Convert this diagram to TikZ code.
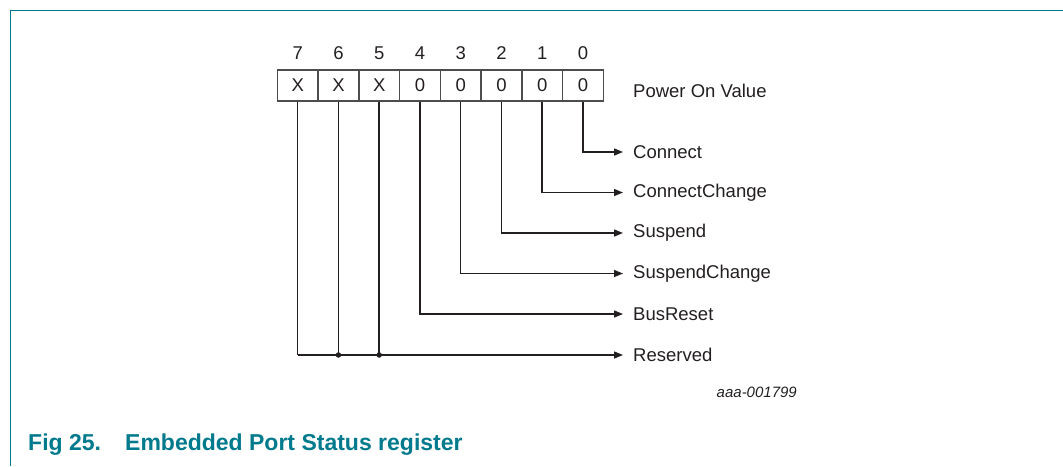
\documentclass[tikz,border=0pt]{standalone}
\usepackage{fontspec}
\setmainfont{Liberation Sans}
\usetikzlibrary{arrows.meta}
\definecolor{nxpteal}{RGB}{0,122,140}
\definecolor{ink}{RGB}{35,31,32}
\tikzset{
  cell/.style={draw=ink!80, line width=1.4pt, minimum width=40.75pt, minimum height=31pt, inner sep=0pt, font=\fontsize{18.5}{20}\selectfont, text=ink},
  bitnum/.style={inner sep=0pt, font=\fontsize{18.5}{20}\selectfont, text=ink},
  lbl/.style={anchor=west, inner sep=0pt, font=\fontsize{18.5}{20}\selectfont, text=ink},
  conn/.style={draw=ink, line width=1.4pt, -{Triangle[length=9pt,width=7pt]}},
  wire/.style={draw=ink, line width=1.4pt},
  dotj/.style={circle, fill=ink, inner sep=0pt, minimum size=5.5pt},
  frame/.style={draw=nxpteal, line width=1.6pt},
  caption/.style={anchor=west, inner sep=0pt, text=nxpteal, font=\fontsize{23}{25}\selectfont\bfseries}
}
\begin{document}
\begin{tikzpicture}[x=1pt, y=-1pt]
\useasboundingbox (0,0) rectangle (1063,466);
% frame
\draw[frame] (1063,10.5) -- (10.5,10.5) -- (10.5,466);
% cells
\foreach \b/\v [evaluate=\b as \xc using {277.3+(7-\b+0.5)*40.75}] in {7/X,6/X,5/X,4/0,3/0,2/0,1/0,0/0} {
  \node[cell] (c\b) at (\xc,85.5) {\v};
  \node[bitnum] (n\b) at (\xc,53) {\b};
}
\node[lbl] (pov) at (633,91) {Power On Value};
% labels
\node[lbl] (l0) at (633,152) {Connect};
\node[lbl] (l1) at (633,192.5) {ConnectChange};
\node[lbl] (l2) at (633,233) {Suspend};
\node[lbl] (l3) at (633,273.5) {SuspendChange};
\node[lbl] (l4) at (633,314) {BusReset};
\node[lbl] (l5) at (633,355) {Reserved};
% connectors
\foreach \b in {0,1,2,3,4} {
  \draw[conn, shorten >=10pt] (c\b.south) |- (l\b.west);
}
\coordinate (r7) at (c7.south |- l5.west);
\coordinate (r6) at (c6.south |- l5.west);
\coordinate (r5) at (c5.south |- l5.west);
\draw[wire] (c7.south) -- (r7);
\draw[wire] (c6.south) -- (r6);
\draw[wire] (c5.south) -- (r5);
\draw[conn, shorten >=10pt] (r7) -- (l5.west);
\node[dotj] at (r6) {};
\node[dotj] at (r5) {};
% id
\node[anchor=east, inner sep=0pt, text=ink, font=\fontsize{15}{17}\selectfont\itshape] (id) at (797,392) {aaa-001799};
% caption
\node[caption] (cap1) at (28,445) {Fig 25.};
\node[caption] (cap2) at (125,445) {Embedded Port Status register};
\end{tikzpicture}
\end{document}
